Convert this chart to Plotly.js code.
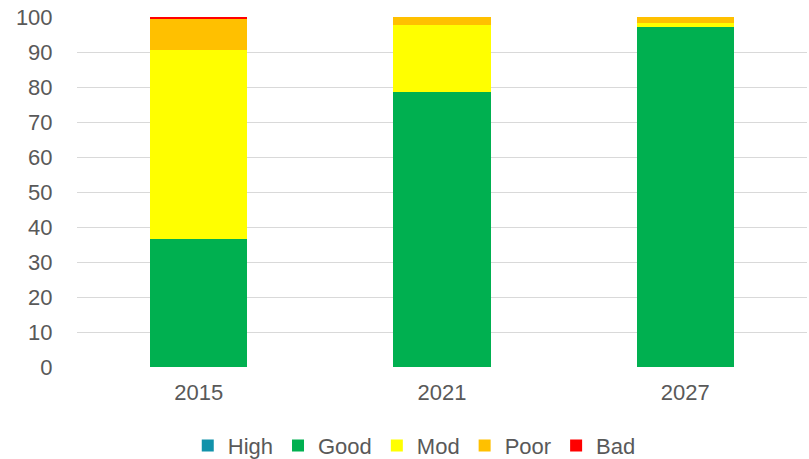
<!DOCTYPE html>
<html>
<head>
<meta charset="utf-8">
<script src="https://cdn.plot.ly/plotly-3.0.1.min.js"></script>
<style>html,body{margin:0;padding:0;background:#fff;}#chart{width:809px;height:459px;}</style>
</head>
<body>
<div id="chart"></div>
<script>
var years = ["2015", "2021", "2027"];
var seriesNames = ["High", "Good", "Mod", "Poor", "Bad"];
var highVals = [0, 0, 0];
var goodVals = [36.5, 78.7, 97.2];
var modVals = [54.2, 18.9, 1.2];
var poorVals = [8.8, 2.4, 1.6];
var badVals = [0.5, 0, 0];
var colors = ["#1192AA", "#00B050", "#FFFF00", "#FFC000", "#FF0000"];

var allVals = [highVals, goodVals, modVals, poorVals, badVals];
var traces = seriesNames.map(function(n, i) {
  return {
    type: "bar",
    name: n,
    x: years,
    y: allVals[i],
    marker: {color: colors[i]},
    hoverinfo: "name+y"
  };
});

var layout = {
  width: 809,
  height: 459,
  barmode: "stack",
  bargap: 0.6,
  margin: {l: 77, r: 2, t: 17, b: 92, autoexpand: false},
  paper_bgcolor: "#ffffff",
  plot_bgcolor: "#ffffff",
  font: {family: "Liberation Sans, Arial, sans-serif", size: 22, color: "#595959"},
  xaxis: {
    type: "category",
    showgrid: false,
    showline: false,
    zeroline: false,
    automargin: false,
    ticks: "outside",
    ticklen: 6,
    tickcolor: "rgba(0,0,0,0)",
    tickfont: {size: 22, color: "#595959"}
  },
  yaxis: {
    range: [0, 100],
    dtick: 10,
    showgrid: true,
    gridcolor: "#d9d9d9",
    gridwidth: 1,
    zeroline: false,
    showline: false,
    automargin: false,
    ticks: "outside",
    ticklen: 19,
    tickcolor: "rgba(0,0,0,0)",
    tickfont: {size: 22, color: "#595959"}
  },
  showlegend: true,
  legend: {
    orientation: "h",
    x: 0.462,
    xanchor: "center",
    y: -0.225,
    yanchor: "middle",
    font: {size: 22, color: "#595959"},
    itemwidth: 30,
    traceorder: "normal"
  }
};

Plotly.newPlot("chart", traces, layout, {displayModeBar: false, staticPlot: true});
</script>
</body>
</html>
